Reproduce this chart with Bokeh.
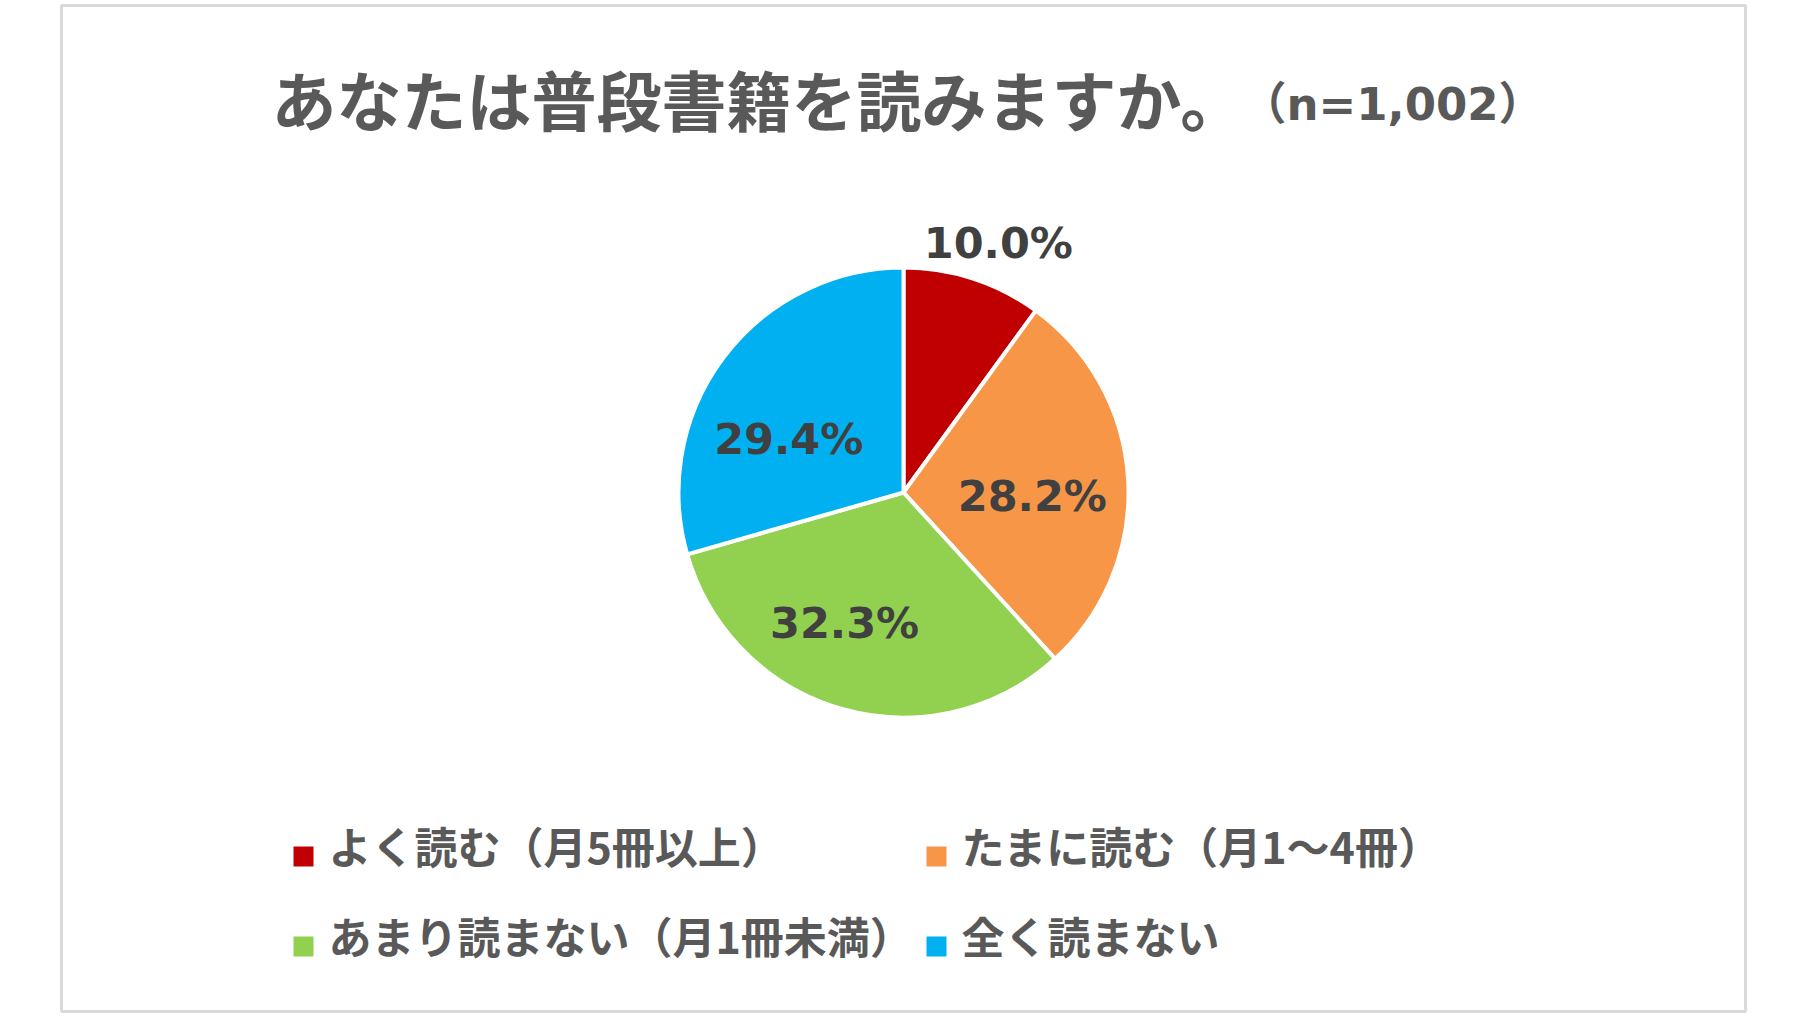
import math

from bokeh.core.properties import value
from bokeh.embed import file_html
from bokeh.models import ColumnDataSource, Range1d
from bokeh.plotting import figure
from bokeh.resources import INLINE

# chart data
title = "あなたは普段書籍を読みますか。"
subtitle = "（n=1,002）"
categories = ["よく読む（月5冊以上）", "たまに読む（月1～4冊）",
              "あまり読まない（月1冊未満）", "全く読まない"]
values = [10.0, 28.2, 32.3, 29.4]
colors = ["#C00000", "#F79646", "#92D050", "#00B0F0"]

# layout (pixel positions measured from the top-left of the window)
W, H = 1790, 1016
def Y(ry):
    return H - ry

cx, cy, radius = 903, Y(492), 225
inside_r, outside_r = 0.6, 1.19
# small tweaks so the labels sit where Excel's "best fit" put them (dx, dy down)
label_nudge = [(12, 5), (-6, 11), (-22, 1), (-7, 28)]

p = figure(width=W, height=H, x_range=Range1d(0, W), y_range=Range1d(0, H),
           output_backend="svg", toolbar_location=None, min_border=0)
p.axis.visible = False
p.grid.visible = False
p.outline_line_color = None
p.background_fill_color = "white"
p.border_fill_color = "white"

# chart frame
p.quad(left=[61], right=[1745], top=[Y(5)], bottom=[Y(1011)],
       fill_color=None, line_color="#D9D9D9", line_width=3)

# pie wedges, clockwise from 12 o'clock
total = sum(values)
starts, ends, lx, ly, ltext = [], [], [], [], []
cum = 0.0
for i, v in enumerate(values):
    c0 = cum / total
    cum += v
    c1 = cum / total
    starts.append(math.pi / 2 - 2 * math.pi * c1)
    ends.append(math.pi / 2 - 2 * math.pi * c0)
    mid = math.pi / 2 - 2 * math.pi * (c0 + c1) / 2
    rf = outside_r if v / total < 0.15 else inside_r
    dx, dy = label_nudge[i]
    lx.append(cx + rf * radius * math.cos(mid) + dx)
    ly.append(cy + rf * radius * math.sin(mid) - dy)
    ltext.append(f"{v:.1f}%")

pie = ColumnDataSource(dict(start=starts, end=ends, color=colors))
p.wedge(x=cx, y=cy, radius=radius, start_angle="start", end_angle="end",
        fill_color="color", line_color="white", line_width=4, source=pie)

p.text(x=lx, y=ly, text=ltext, text_align="center", text_baseline="middle",
       text_font=value("DejaVu Sans"), text_font_style="bold",
       text_font_size="43px", text_color="#404040")

# title
p.text(x=[271], y=[Y(97)], text=[title], text_align="left", text_baseline="middle",
       text_font=value("Noto Sans CJK JP"), text_font_style="bold",
       text_font_size="65px", text_color="#595959")
p.text(x=[1241], y=[Y(104)], text=[subtitle], text_align="left", text_baseline="middle",
       text_font=value("DejaVu Sans, Noto Sans CJK JP"), text_font_style="bold",
       text_font_size="45px", text_color="#595959")

# legend, two columns
col_x = [303, 936]
row_y = [844, 934]
mx, my, tx, ty = [], [], [], []
for i in range(len(categories)):
    r, c = divmod(i, 2)
    mx.append(col_x[c])
    my.append(Y(row_y[r] + 12))
    tx.append(col_x[c] + 25)
    ty.append(Y(row_y[r]))
p.scatter(x=mx, y=my, marker="square", size=20, fill_color=colors, line_color=None)
p.text(x=tx, y=ty, text=categories, text_align="left", text_baseline="middle",
       text_font=value("Noto Sans CJK JP"), text_font_style="bold",
       text_font_size="43px", text_color="#595959")

open("out.html", "w").write(file_html(p, INLINE))
